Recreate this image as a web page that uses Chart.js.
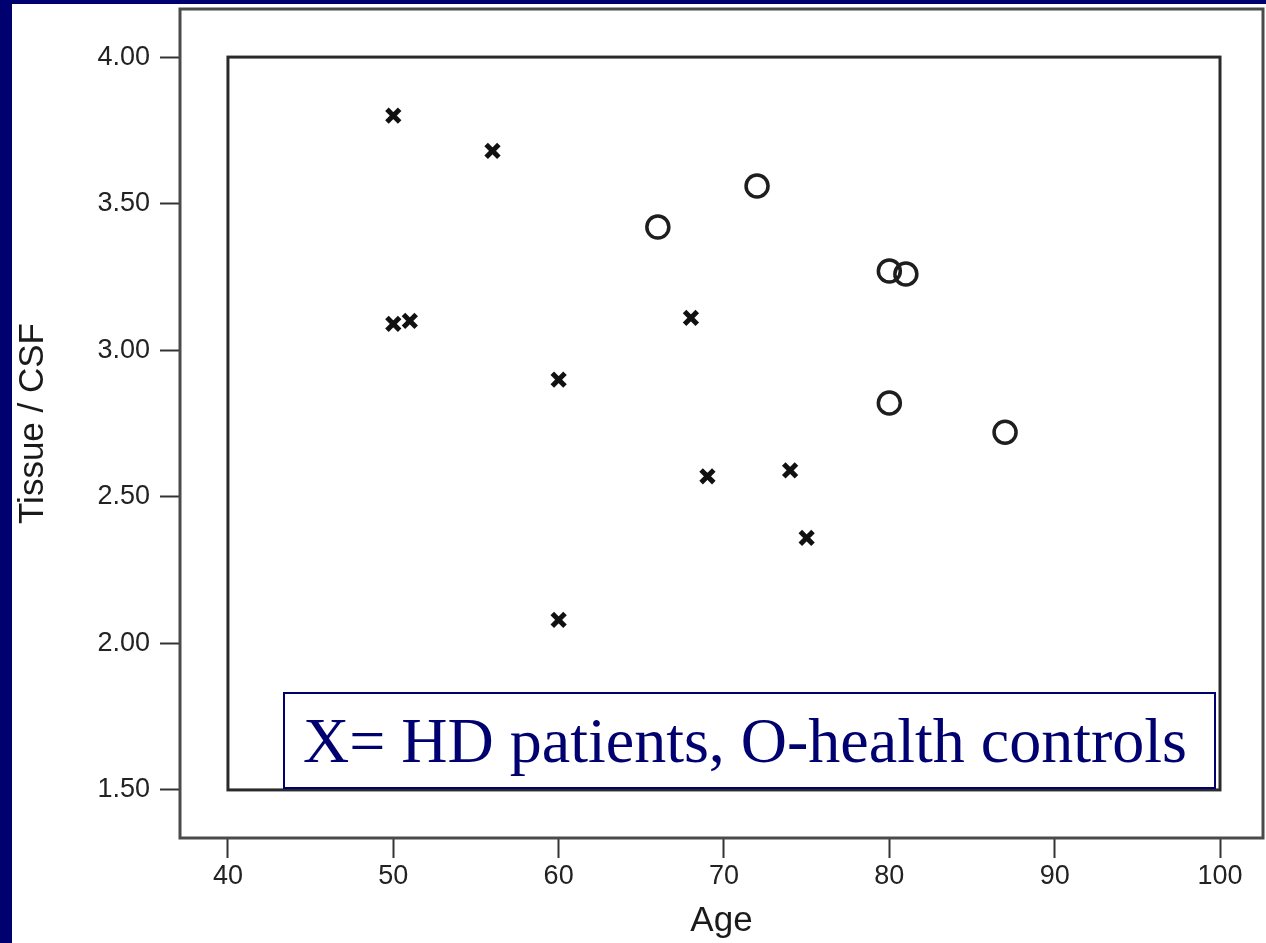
<!DOCTYPE html>
<html>
<head>
<meta charset="utf-8">
<script src="https://cdn.jsdelivr.net/npm/chart.js@4/dist/chart.umd.min.js"></script>
<style>
  html, body { margin: 0; padding: 0; background: #00006e; }
  #wrap { position: relative; width: 1266px; height: 943px; overflow: hidden; }
  #chart { position: absolute; left: 0; top: 0; }
  #note {
    position: absolute; left: 283px; top: 692px; width: 933px; height: 97px;
    box-sizing: border-box; border: 2px solid #000070; background: #fff;
    font-family: "Liberation Serif", "Times New Roman", serif; font-size: 64px;
    line-height: 93px; color: #000070; padding-left: 18px; white-space: nowrap;
  }
</style>
</head>
<body>
<div id="wrap">
  <canvas id="chart" width="1266" height="943"></canvas>
  <div id="note">X= HD patients, O-health controls</div>
</div>
<script>
// ===== DATA =====
const xTicks = [40, 50, 60, 70, 80, 90, 100];
const yTicks = [1.5, 2.0, 2.5, 3.0, 3.5, 4.0];

const hdAge   = [50, 56, 50, 51, 60, 68, 69, 74, 75, 60];
const hdRatio = [3.80, 3.68, 3.09, 3.10, 2.90, 3.11, 2.57, 2.59, 2.36, 2.08];

const ctrlAge   = [66, 72, 80, 81, 80, 87];
const ctrlRatio = [3.42, 3.56, 3.27, 3.26, 2.82, 2.72];

const toPoints = (xs, ys) => xs.map((x, i) => ({ x, y: ys[i] }));

const tickFont = { family: '"Liberation Sans", Arial, sans-serif', size: 27 };
const titleFont = { family: '"Liberation Sans", Arial, sans-serif', size: 35 };

// ===== FRAMES / BACKGROUND =====
const framePlugin = {
  id: 'frames',
  beforeDraw(chart) {
    const ctx = chart.ctx;
    ctx.save();
    ctx.fillStyle = '#ffffff';
    ctx.fillRect(12, 4, chart.width - 12, chart.height - 4);
    ctx.restore();
  },
  beforeDatasetsDraw(chart) {
    const { ctx, chartArea: a, scales: { x, y } } = chart;
    ctx.save();
    // outer axis box
    ctx.strokeStyle = '#4a4a4a';
    ctx.lineWidth = 3;
    ctx.strokeRect(a.left, a.top, a.right - a.left, a.bottom - a.top);
    // inner data box
    const l = x.getPixelForValue(xTicks[0]);
    const r = x.getPixelForValue(xTicks[xTicks.length - 1]);
    const t = y.getPixelForValue(yTicks[yTicks.length - 1]);
    const b = y.getPixelForValue(yTicks[0]);
    ctx.strokeStyle = '#2a2a2a';
    ctx.strokeRect(l, t, r - l, b - t);
    ctx.restore();
  },
};

new Chart(document.getElementById('chart'), {
  type: 'scatter',
  data: {
    datasets: [
      {
        label: 'HD patients',
        data: toPoints(hdAge, hdRatio),
        pointStyle: 'crossRot',
        pointRadius: 9,
        borderWidth: 5,
        borderColor: '#111',
        backgroundColor: '#111',
      },
      {
        label: 'Health controls',
        data: toPoints(ctrlAge, ctrlRatio),
        pointStyle: 'circle',
        pointRadius: 11,
        borderWidth: 3.5,
        borderColor: '#1e1e1e',
        backgroundColor: 'rgba(0,0,0,0)',
      },
    ],
  },
  options: {
    responsive: false,
    animation: false,
    layout: { autoPadding: false, padding: { top: 9, right: 3, left: 0, bottom: 0 } },
    plugins: { legend: { display: false }, tooltip: { enabled: false } },
    scales: {
      x: {
        type: 'linear',
        min: 37.1,
        max: 102.6,
        afterBuildTicks: s => { s.ticks = xTicks.map(v => ({ value: v })); },
        afterFit: s => { s.height = 105; s.paddingLeft = 0; s.paddingRight = 0; },
        border: { display: false },
        grid: { display: true, drawOnChartArea: false, drawTicks: true, tickLength: 20, tickColor: '#333', tickWidth: 2 },
        ticks: { font: tickFont, color: '#222', padding: 2, maxRotation: 0, callback: v => String(v) },
        title: { display: true, text: 'Age', font: titleFont, color: '#1a1a1a', padding: { top: 0, bottom: 1 } },
      },
      y: {
        type: 'linear',
        min: 1.336,
        max: 4.164,
        afterBuildTicks: s => { s.ticks = yTicks.map(v => ({ value: v })); },
        afterFit: s => { s.width = 180; s.paddingTop = 0; s.paddingBottom = 0; },
        border: { display: false },
        grid: { display: true, drawOnChartArea: false, drawTicks: true, tickLength: 20, tickColor: '#333', tickWidth: 2 },
        ticks: { font: tickFont, color: '#222', padding: 10, callback: v => v.toFixed(2) },
        title: { display: true, text: 'Tissue / CSF', font: titleFont, color: '#1a1a1a', padding: { top: 12, bottom: 0 } },
      },
    },
  },
  plugins: [framePlugin],
});
</script>
</body>
</html>
